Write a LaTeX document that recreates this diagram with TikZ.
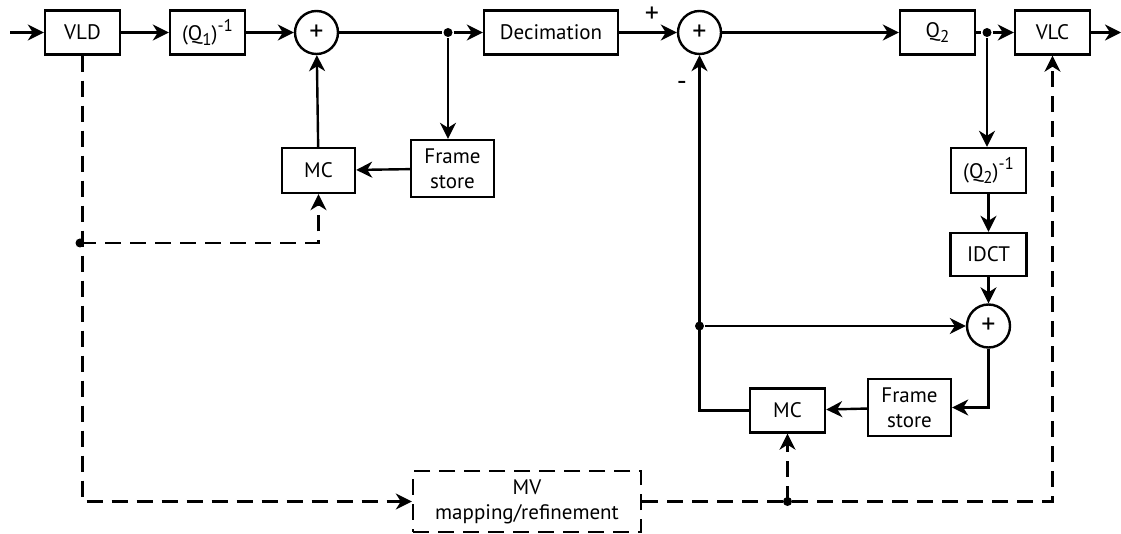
\documentclass[tikz,border=0pt]{standalone}
\usepackage{fontspec}
\setmainfont{PT Sans}
\usetikzlibrary{arrows.meta}
\newcommand{\lowidx}[1]{\raisebox{-0.45ex}{\fontsize{17}{17}\selectfont #1}}
\newcommand{\highidx}[1]{\raisebox{0.8ex}{\fontsize{17}{17}\selectfont #1}}
\begin{document}
\begin{tikzpicture}[x=1pt,y=1pt,
  line width=2.4pt,
  font=\fontsize{21}{25}\selectfont,
  blk/.style={draw,rectangle,inner sep=0pt,align=center},
  sumnode/.style={draw,circle,minimum size=43pt,inner sep=0pt,font=\fontsize{28}{28}\selectfont},
  signlabel/.style={inner sep=0pt,font=\fontsize{28}{28}\selectfont},
  arr/.style={-{Stealth[length=16pt,width=16pt,inset=5pt]}},
  dsh/.style={dash pattern=on 16pt off 9pt},
  dot/.style={circle,fill,inner sep=0pt,minimum size=9pt}]
\useasboundingbox (0,0) rectangle (1121,-534);

% forward path
\coordinate (in) at (10,-32.5);
\node[blk,minimum width=75pt,minimum height=44pt] (vld) at (82.5,-32.5) {VLD};
\node[blk,minimum width=75pt,minimum height=44pt] (q1i) at (207.5,-32.5) {(Q\lowidx{1})\highidx{-1}};
\node[sumnode] (s1) at (316.5,-32.5) {+};
\node[dot] (j1) at (448,-32.5) {};
\node[blk,minimum width=134pt,minimum height=44pt] (dec) at (551,-32.5) {Decimation};
\node[sumnode] (s2) at (699.5,-32.5) {+};
\node[blk,minimum width=75pt,minimum height=44pt] (q2) at (937.5,-32.5) {Q\lowidx{2}};
\node[dot] (j2) at (987,-32.5) {};
\node[blk,minimum width=75pt,minimum height=44pt] (vlc) at (1052.5,-32.5) {VLC};
\coordinate (out) at (1121,-32.5);

% decoder loop
\node[blk,minimum width=83pt,minimum height=57pt] (fs1) at (452.5,-168.5) {Frame\\store};
\node[blk,minimum width=73pt,minimum height=45pt] (mc1) at (318.5,-170.5) {MC};

% encoder loop
\node[blk,minimum width=75pt,minimum height=45pt] (q2i) at (988.5,-170.5) {(Q\lowidx{2})\highidx{-1}};
\node[blk,minimum width=76pt,minimum height=43pt] (idct) at (988.5,-254.5) {IDCT};
\node[sumnode] (s3) at (988.5,-326) {+};
\node[dot] (j3) at (699.5,-326) {};
\node[blk,minimum width=83pt,minimum height=57pt] (fs2) at (909.5,-407.5) {Frame\\store};
\node[blk,minimum width=75pt,minimum height=44pt] (mc2) at (787.5,-410.5) {MC};

% motion vector path
\node[blk,dsh,minimum width=228pt,minimum height=61pt] (mv) at (527,-501.5) {MV\\mapping/refinement};
\node[dot] (d1) at (80,-243) {};
\node[dot] (d2) at (787.5,-501.5) {};

% signs at the subtractor
\node[signlabel] (lp) at (652,-15) {+};
\node[signlabel] (lm) at (682,-86) {-};

% solid connectors
\draw[arr] (in) -- (vld);
\draw[arr] (vld) -- (q1i);
\draw[arr] (q1i) -- (s1);
\draw (s1) -- (j1);
\draw[arr] (j1) -- (dec);
\draw[arr] (dec) -- (s2);
\draw[arr] (s2) -- (q2);
\draw (q2) -- (j2);
\draw[arr] (j2) -- (vlc);
\draw[arr] (vlc) -- (out);
\draw[arr] (j1) -- (j1 |- fs1.north);
\draw[arr] (fs1) -- (mc1);
\draw[arr] (mc1) -- (s1);
\draw[arr] (j2) -- (j2 |- q2i.north);
\draw[arr] (q2i) -- (idct);
\draw[arr] (idct) -- (s3);
\draw[arr] (j3) -- (s3);
\draw[arr] (s3.south) |- (fs2.east);
\draw[arr] (fs2) -- (mc2);
\draw[arr] (mc2.west) -| (s2.south);

% dashed connectors
\draw[dsh,arr] (vld.south) |- (mv.west);
\draw[dsh,arr] (d1.center) -| (mc1.south);
\draw[dsh,arr] (mv.east) -| (vlc.south);
\draw[dsh,arr] (d2.center) -- (mc2.south);
\end{tikzpicture}
\end{document}
